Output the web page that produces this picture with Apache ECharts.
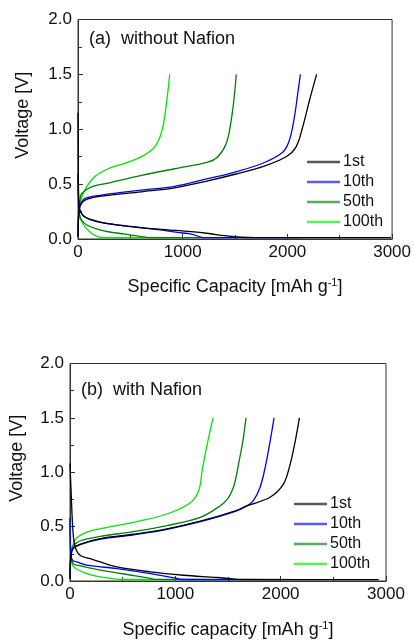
<!DOCTYPE html>
<html>
<head>
<meta charset="utf-8">
<script src="https://cdn.jsdelivr.net/npm/echarts@6/dist/echarts.min.js"></script>
<style>
  html, body { margin: 0; padding: 0; background: #fff; }
  #chart { width: 414px; height: 640px; }
</style>
</head>
<body>
<div id="chart"></div>
<script>
// cycle names and colours
const cycles = ["1st", "10th", "50th", "100th"]
const colors = ["#000000", "#0000ff", "#008000", "#00e600"]

const xTicks = [0, 1000, 2000, 3000]
const yTicks = [0.0, 0.5, 1.0, 1.5, 2.0]

// (a) without Nafion: [capacity mAh/g, voltage V]
const aDis1 = [[0,1.15],[4,0.5],[10,0.3],[20,0.26],[40,0.225],[67,0.2],[120,0.18],[225,0.152],[448,0.12],[765,0.09],[1083,0.067],[1250,0.05],[1400,0.03],[1560,0.016],[1700,0.012],[2990,0.012]]
const aDis10 = [[0,0.6],[4,0.4],[10,0.29],[20,0.26],[40,0.225],[67,0.2],[120,0.175],[225,0.15],[448,0.12],[765,0.085],[950,0.06],[1083,0.045],[1162,0.02],[1220,0.012],[2146,0.012]]
const aDis50 = [[0,0.58],[4,0.35],[10,0.26],[20,0.2],[35,0.17],[80,0.13],[162,0.097],[289,0.066],[448,0.045],[607,0.022],[680,0.013],[1530,0.012]]
const aDis100 = [[0,0.58],[3,0.35],[8,0.25],[19,0.2],[40,0.15],[67,0.11],[130,0.05],[194,0.02],[230,0.013],[890,0.012]]

const aCh1 = [[0,0.02],[3,0.15],[10,0.26],[25,0.31],[67,0.355],[225,0.39],[606,0.43],[924,0.466],[1241,0.53],[1500,0.59],[1765,0.66],[1987,0.75],[2083,0.84],[2146,1.02],[2210,1.26],[2279,1.5]]
const aCh10 = [[0,0.02],[3,0.15],[10,0.26],[25,0.32],[67,0.37],[225,0.4],[606,0.445],[924,0.48],[1241,0.55],[1500,0.61],[1765,0.69],[1955,0.79],[2019,0.9],[2067,1.11],[2098,1.32],[2124,1.5]]
const aCh50 = [[0,0.02],[3,0.15],[10,0.28],[20,0.36],[35,0.415],[130,0.475],[289,0.51],[606,0.58],[924,0.64],[1241,0.7],[1336,0.75],[1416,0.87],[1463,1.08],[1495,1.32],[1511,1.5]]
const aCh100 = [[0,0.02],[3,0.15],[8,0.27],[19,0.33],[67,0.45],[162,0.57],[289,0.64],[448,0.69],[606,0.75],[733,0.84],[803,0.99],[844,1.23],[876,1.5]]

// (b) with Nafion
const bDis1 = [[0,1.08],[9,0.86],[28,0.46],[50,0.31],[98,0.235],[193,0.205],[288,0.175],[446,0.13],[763,0.084],[1079,0.053],[1396,0.032],[1570,0.017],[1700,0.014],[2930,0.013]]
const bDis10 = [[0,0.58],[3,0.4],[9.5,0.235],[25,0.19],[66,0.175],[161,0.145],[446,0.114],[763,0.068],[1016,0.023],[1070,0.014],[1990,0.013]]
const bDis50 = [[0,0.56],[3,0.38],[9,0.23],[30,0.16],[66,0.145],[288,0.1],[605,0.05],[763,0.025],[820,0.015],[1690,0.013]]
const bDis100 = [[0,0.56],[3,0.35],[8,0.22],[35,0.13],[161,0.068],[288,0.038],[420,0.02],[490,0.014],[1370,0.013]]

const bCh1 = [[0,0.02],[3,0.15],[10,0.24],[30,0.3],[98,0.34],[288,0.39],[605,0.43],[921,0.48],[1237,0.55],[1570,0.646],[1678,0.69],[1899,0.77],[2026,0.89],[2089,1.07],[2137,1.28],[2178,1.5]]
const bCh10 = [[0,0.02],[3,0.15],[10,0.24],[30,0.3],[98,0.335],[288,0.385],[605,0.425],[921,0.475],[1237,0.545],[1570,0.64],[1678,0.69],[1741,0.74],[1804,0.86],[1852,1.04],[1899,1.28],[1937,1.5]]
const bCh50 = [[0,0.02],[3,0.15],[10,0.25],[30,0.32],[98,0.37],[288,0.41],[605,0.455],[921,0.51],[1237,0.585],[1424,0.69],[1500,0.76],[1551,0.86],[1580,0.97],[1599,1.07],[1640,1.28],[1671,1.5]]
const bCh100 = [[0,0.02],[3,0.15],[10,0.26],[30,0.34],[66,0.4],[161,0.45],[288,0.48],[605,0.54],[921,0.616],[1143,0.72],[1222,0.83],[1254,1.01],[1301,1.25],[1358,1.5]]

const panelA = [[aDis1, aCh1], [aDis10, aCh10], [aDis50, aCh50], [aDis100, aCh100]]
const panelB = [[bDis1, bCh1], [bDis10, bCh10], [bDis50, bCh50], [bDis100, bCh100]]

const font = "Liberation Sans, Arial, sans-serif"

function xAxisFor(gridIndex, label, gap) {
  return {
    type: "value",
    gridIndex,
    min: xTicks[0],
    max: xTicks[xTicks.length - 1],
    interval: 1000,
    name: label,
    nameLocation: "middle",
    nameGap: gap,
    nameTextStyle: {
      color: "#111",
      fontSize: 18,
      fontFamily: font,
      rich: {
        t: { fontSize: 18, color: "#111", fontFamily: font },
        s: { fontSize: 11, color: "#111", fontFamily: font, verticalAlign: "top", padding: [0, 0, 9, 0] }
      }
    },
    axisLine: { show: true, lineStyle: { color: "#333", width: 1 } },
    axisTick: { show: true, inside: true, length: 5, lineStyle: { color: "#333" } },
    minorTick: { show: true, splitNumber: 2, length: 4, lineStyle: { color: "#333" } },
    axisLabel: { color: "#111", fontSize: 17, fontFamily: font, margin: 5, formatter: v => String(v) },
    splitLine: { show: false }
  }
}

function yAxisFor(gridIndex, gap) {
  return {
    type: "value",
    gridIndex,
    min: yTicks[0],
    max: yTicks[yTicks.length - 1],
    interval: 0.5,
    name: "Voltage [V]",
    nameLocation: "middle",
    nameGap: gap,
    nameTextStyle: { color: "#111", fontSize: 18, fontFamily: font, padding: [0, 0, 0, 28] },
    axisLine: { show: true, lineStyle: { color: "#333", width: 1 } },
    axisTick: { show: true, inside: true, length: 5, lineStyle: { color: "#333" } },
    minorTick: { show: true, splitNumber: 2, length: 4, lineStyle: { color: "#333" } },
    axisLabel: {
      color: "#111",
      fontSize: 17,
      fontFamily: font,
      margin: 6,
      formatter: v => v.toFixed(1)
    },
    splitLine: { show: false }
  }
}

function seriesFor(panel, idx) {
  const out = []
  panel.forEach((curves, i) => {
    curves.forEach(curve => {
      out.push({
        name: cycles[i],
        type: "line",
        xAxisIndex: idx,
        yAxisIndex: idx,
        data: curve,
        showSymbol: false,
        smooth: 0.35,
        lineStyle: { width: 1.3, color: colors[i] },
        itemStyle: { color: colors[i] },
        z: 10 - i
      })
    })
  })
  return out
}

function legendFor(left, top) {
  return {
    orient: "vertical",
    left,
    top,
    padding: 0,
    icon: "rect",
    itemWidth: 33,
    itemHeight: 2.5,
    itemGap: 4,
    data: cycles,
    itemStyle: { opacity: 0.65 },
    textStyle: { color: "#111", fontSize: 16, fontFamily: font, lineHeight: 16, padding: [0, 0, 0, -2] },
    selectedMode: false
  }
}

const chart = echarts.init(document.getElementById("chart"))

chart.setOption({
  animation: false,
  backgroundColor: "#fff",
  title: [
    {
      text: "(a)  without Nafion",
      left: 89,
      top: 30,
      padding: 0,
      textStyle: { color: "#111", fontSize: 18, fontWeight: "normal", fontFamily: font }
    },
    {
      text: "(b)  with Nafion",
      left: 81,
      top: 381,
      padding: 0,
      textStyle: { color: "#111", fontSize: 18, fontWeight: "normal", fontFamily: font }
    }
  ],
  legend: [legendFor(307, 154), legendFor(294, 496)],
  grid: [
    { left: 78, top: 19.5, width: 315, height: 219.5, show: true, borderColor: "#333", borderWidth: 1 },
    { left: 70, top: 363.5, width: 316, height: 219, show: true, borderColor: "#333", borderWidth: 1 }
  ],
  xAxis: [
    xAxisFor(0, "{t|Specific Capacity [mAh g}{s|-1}{t|]}", 38),
    xAxisFor(1, "{t|Specific capacity [mAh g}{s|-1}{t|]}", 39)
  ],
  yAxis: [yAxisFor(0, 46), yAxisFor(1, 44)],
  series: seriesFor(panelA, 0).concat(seriesFor(panelB, 1))
})
</script>
</body>
</html>
